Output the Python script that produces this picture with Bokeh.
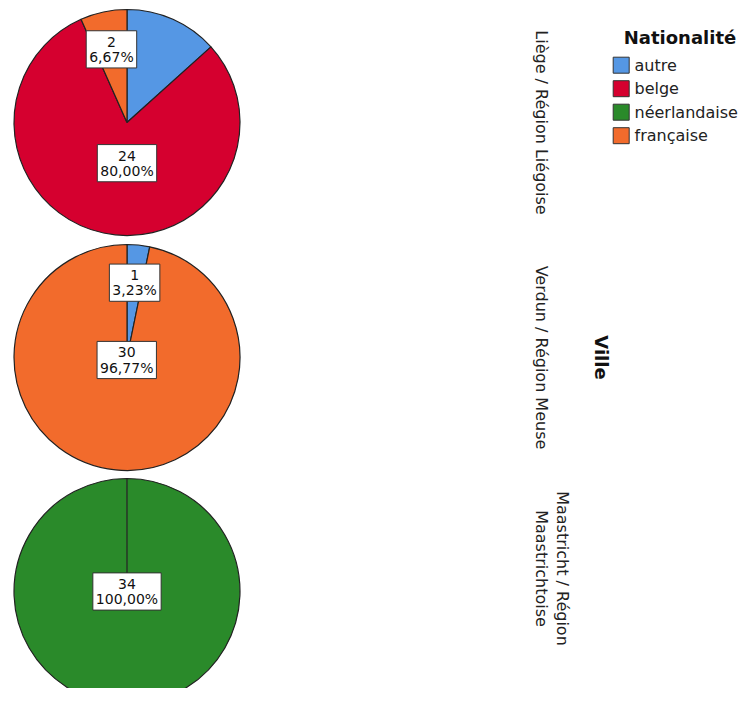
import math
from bokeh.plotting import figure
from bokeh.models import Range1d
from bokeh.core.properties import value
from bokeh.embed import file_html
from bokeh.resources import INLINE

# ---------------- data ----------------
nationalities = ["autre", "belge", "néerlandaise", "française"]
colors = ["#5597E4", "#D5002F", "#2A8A2A", "#F26B2C"]
cities = ["Liège / Région Liégoise", "Verdun / Région Meuse",
          "Maastricht / Région\nMaastrichtoise"]
liege_counts = [4, 24, 0, 2]
verdun_counts = [1, 0, 0, 30]
maastricht_counts = [0, 0, 34, 0]
city_counts = [liege_counts, verdun_counts, maastricht_counts]
hidden_labels = [("Liège / Région Liégoise", "autre")]
legend_title = "Nationalité"
panel_title = "Ville"

# ---------------- layout (reference pixel coords) ----------------
W, H = 740, 688
FONT = "DejaVu Sans"
pie_cx = 126.5
pie_cy = [122, 357, 591]
R = 113
city_label_x = 531
city_label_y = [122, 357, 568]
legend_dx = -16


def Y(y_ref):
    return 704 - y_ref


p = figure(width=W, height=H, output_backend="svg", toolbar_location=None,
           x_range=Range1d(0, W), y_range=Range1d(704 - H, 704),
           min_border=0, outline_line_color=None)
p.axis.visible = False
p.grid.visible = False

wx, wy, ws, we, wc = [], [], [], [], []
lx, ly, lt = [], [], []
for ci, (city, counts) in enumerate(zip(cities, city_counts)):
    total = sum(counts)
    cum = 0.0
    cx, cy = pie_cx, Y(pie_cy[ci])
    for ni, (nat, c) in enumerate(zip(nationalities, counts)):
        if c == 0:
            continue
        a = cum / total
        b = (cum + c) / total
        cum += c
        f = b - a
        start = math.pi / 2 - 2 * math.pi * a
        end = math.pi / 2 - 2 * math.pi * b
        if f >= 0.9999:
            end = start - 2 * math.pi + 1e-3
        wx.append(cx); wy.append(cy); ws.append(start); we.append(end); wc.append(colors[ni])
        if (city, nat) in hidden_labels:
            continue
        alpha = math.pi * f
        d = 2 * R * math.sin(alpha) / (3 * alpha)
        mid = math.pi / 2 - 2 * math.pi * (a + b) / 2
        if 0.5 < f < 0.9:
            # large slice: label pushed straight down/up away from the centre
            d = max(d, 0.36 * R)
            lx.append(cx)
            ly.append(cy + d * (1 if math.sin(mid) > 0 else -1))
        else:
            lx.append(cx + d * math.cos(mid))
            ly.append(cy + d * math.sin(mid))
        pct = f"{100 * f:.2f}".replace(".", ",") + "%"
        lt.append(f"{c}\n{pct}")

p.wedge(x=wx, y=wy, radius=R, start_angle=ws, end_angle=we, direction="clock",
        fill_color=wc, line_color="#222222", line_width=1.2)

p.text(x=lx, y=ly, text=lt, text_align="center", text_baseline="middle",
       text_font=value(FONT), text_font_size="14px", text_color="#111111",
       text_line_height=0.95,
       background_fill_color="white", border_line_color="#333333",
       border_line_width=1, padding=3)

# city labels
p.text(x=[city_label_x] * 3, y=[Y(v) for v in city_label_y], text=cities,
       angle=-math.pi / 2, text_align="center", text_baseline="bottom",
       text_font=value(FONT), text_font_size="16px", text_color="#222222",
       text_line_height=1.12)

p.text(x=[601], y=[Y(357)], text=[panel_title], angle=-math.pi / 2,
       text_align="center", text_baseline="middle", text_font=value(FONT),
       text_font_size="18px", text_font_style="bold", text_color="#111111")

# legend
p.text(x=[692.5 + legend_dx + 3], y=[Y(37)], text=[legend_title], text_align="center",
       text_baseline="alphabetic", text_font=value(FONT), text_font_size="18px",
       text_font_style="bold", text_color="#111111")
rows = [Y(64.7 + 23.5 * i) for i in range(len(nationalities))]
p.rect(x=[636.7 + legend_dx] * len(rows), y=rows, width=16, height=16, fill_color=colors,
       line_color="#333333", line_width=1)
p.text(x=[650 + legend_dx] * len(rows), y=rows, text=nationalities, text_align="left",
       text_baseline="middle", text_font=value(FONT), text_font_size="16px",
       text_color="#222222")

open("out.html", "w").write(file_html(p, INLINE))
